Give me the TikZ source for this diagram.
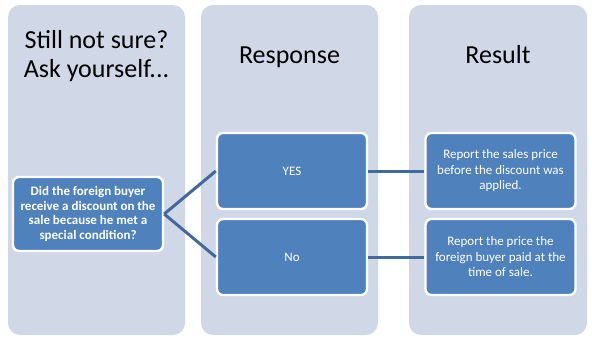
\documentclass[tikz,border=0pt]{standalone}
\usepackage{fontspec}
\setmainfont{Carlito}
\definecolor{colbg}{HTML}{D0D8E8}
\definecolor{boxbl}{HTML}{4F81BD}
\definecolor{linebl}{HTML}{41699C}
\begin{document}
\begin{tikzpicture}[x=1pt,y=-1pt,
  column/.style={fill=colbg,rounded corners=12pt},
  bluebox/.style={draw=white,line width=2.4pt,fill=boxbl,rounded corners=6pt,text=white,align=center,inner sep=0pt,minimum width=150pt,minimum height=76pt},
  conn/.style={draw=linebl,line width=3pt},
  title/.style={font=\fontsize{26}{29}\selectfont,align=center}
]
\useasboundingbox (0,0) rectangle (592,341);
\fill[white] (0,0) rectangle (592,341);
\path[column] (8,5) rectangle (185,335);
\path[column] (201,5) rectangle (378,335);
\path[column] (409,5) rectangle (587,335);
\node[title,anchor=base] (t1) at (96.5,77) {Still not sure?\\Ask yourself...};
\node[title,anchor=base] (t2) at (289.5,63) {Response};
\node[title,anchor=base] (t3) at (498,63) {Result};
\node[bluebox,minimum width=150pt,minimum height=74pt,font=\fontsize{13}{14.7}\selectfont\bfseries] (q) at (88,214) {Did the foreign buyer\\receive a discount on the\\sale because he met a\\special condition?};
\node[bluebox,font=\fontsize{13}{15}\selectfont] (yes) at (292,171) {YES};
\node[bluebox,font=\fontsize{13}{15}\selectfont] (no) at (292,257) {No};
\node[bluebox,font=\fontsize{13}{15.5}\selectfont] (r1) at (500.5,171) {Report the sales price\\before the discount was\\applied.};
\node[bluebox,font=\fontsize{13}{15.5}\selectfont] (r2) at (500.5,257) {Report the price the\\foreign buyer paid at the\\time of sale.};
\draw[conn] (q.east) -- (yes.west);
\draw[conn] (q.east) -- (no.west);
\draw[conn] (yes.east) -- (r1.west);
\draw[conn] (no.east) -- (r2.west);
\end{tikzpicture}
\end{document}
